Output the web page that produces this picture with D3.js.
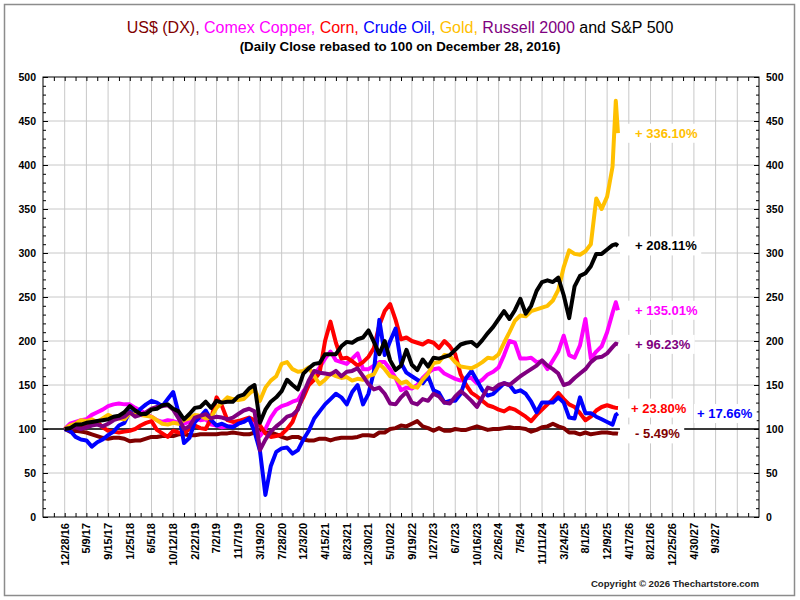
<!DOCTYPE html>
<html>
<head>
<meta charset="utf-8">
<script src="https://cdn.jsdelivr.net/npm/d3@7"></script>
<style>
  body { margin: 0; background: #fff; }
  svg { font-family: "Liberation Sans", Arial, sans-serif; }
</style>
</head>
<body>
<div id="chart-area"></div>
<script>
// date labels, one every ~90 trading days
const tickLabels = ['12/28/16', '5/9/17', '9/15/17', '1/25/18', '6/5/18', '10/12/18', '2/22/19',
    '7/2/19', '11/7/19', '3/19/20', '7/28/20', '12/3/20', '4/15/21', '8/23/21', '12/30/21',
    '5/10/22', '9/19/22', '1/27/23', '6/7/23', '10/16/23', '2/26/24', '7/5/24', '11/11/24',
    '3/24/25', '8/1/25', '12/9/25', '4/17/26', '8/21/26', '12/25/26', '4/30/27', '9/3/27'];

// sample positions, in label steps
const xIdx = d3.range(0, 25.3, 0.25).concat([25.4, 25.5]);

const dollar = [100,97,98,97, 96,94,92,90,
    89,90,90,89, 86,87,87,89,
    91,91,92,92, 92,94,94,93,
    93,94,94,94, 94,95,95,96,
    95,94,94,96, 99,96,96,94,
    91,89,91,91, 88,87,87,89,
    89,87,89,90, 90,90,91,93,
    93,92,96,96, 100,101,104,103,
    106,109,103,101, 98,101,98,98,
    100,99,99,101, 103,101,99,100,
    100,101,102,101, 101,100,97,99,
    102,103,106,103, 101,96,96,94,
    96,94,95,96, 96,95,95,94.51];

const copper = [100,106,108,110, 111,116,119,122,
    126,128,129,128, 128,124,121,117,
    114,110,108,110, 109,107,106,108,
    112,110,111,105, 104,102,103,103,
    106,109,111,104, 92,100,113,122,
    126,128,131,133, 143,150,162,170,
    180,188,178,176, 174,180,186,168,
    168,172,176,176, 168,158,144,147,
    146,150,158,164, 168,169,163,160,
    157,155,158,158, 152,156,162,165,
    170,184,200,198, 180,180,181,176,
    177,168,178,188, 206,184,181,195,
    225,180,188,194, 210,232,244,235.01];

const corn = [100,103,104,103, 104,106,108,102,
    98,97,96,97, 98,100,104,107,
    109,99,95,91, 98,96,95,100,
    104,101,100,112, 136,126,110,108,
    109,111,113,110, 104,95,91,92,
    94,100,108,124, 136,150,156,164,
    200,222,198,180, 181,177,172,176,
    182,192,218,234, 242,224,202,204,
    200,198,196,200, 198,192,200,194,
    185,162,150,141, 137,132,127,125,
    122,120,124,122, 118,114,109,116,
    122,128,134,141, 134,128,125,118,
    110,114,121,125, 127,125,124,123.80];

const crude = [100,98,91,88, 87,80,85,88,
    93,97,104,107, 120,116,123,128,
    132,130,126,134, 142,118,84,90,
    108,114,121,110, 104,106,103,102,
    106,108,112,97, 75,25,58,74,
    78,79,72,76, 88,98,112,120,
    128,134,140,136, 128,142,150,128,
    140,165,224,184, 200,214,175,164,
    160,156,152,160, 144,141,130,132,
    132,140,158,166, 155,144,138,140,
    146,152,150,142, 144,140,131,119,
    130,130,130,136, 130,113,112,136,
    118,118,114,111, 108,105,116,117.66];

const gold = [100,104,106,110, 109,111,108,112,
    116,113,112,111, 118,116,116,115,
    114,110,106,105, 107,106,110,112,
    116,115,112,113, 124,130,136,134,
    133,134,140,145, 132,147,155,160,
    174,176,168,165, 166,170,160,151,
    156,163,160,158, 159,155,157,156,
    160,162,174,168, 160,158,152,154,
    148,147,156,163, 175,176,184,183,
    176,171,170,169, 172,176,181,180,
    185,198,210,223, 229,228,234,236,
    238,240,246,258, 284,303,299,298,
    302,310,362,350, 364,398,473,436.10];

const russell = [100,101,102,100, 102,104,105,103,
    106,110,112,114, 119,114,116,119,
    123,125,126,127, 122,112,100,103,
    113,115,117,112, 114,113,111,113,
    117,121,123,120, 76,88,97,103,
    108,114,116,122, 140,155,166,164,
    163,162,166,160, 165,166,169,160,
    151,145,147,140, 129,128,136,142,
    130,128,134,132, 140,137,130,129,
    137,143,138,132, 125,136,147,145,
    150,152,150,155, 160,164,168,172,
    178,172,168,163, 150,152,158,163,
    168,176,181,182, 186,193,197,196.23];

const spx = [100,101,105,105, 107,108,109,110,
    111,114,115,119, 126,121,117,117,
    122,123,127,128, 123,120,111,117,
    124,125,131,124, 132,130,131,131,
    137,139,146,150, 107,122,131,136,
    143,156,150,145, 163,169,174,175,
    185,185,185,194, 199,198,202,204,
    212,199,185,200, 178,167,172,190,
    173,167,179,171, 181,180,182,184,
    190,196,198,199, 194,201,209,216,
    225,234,225,235, 248,231,240,257,
    267,269,267,272, 252,226,262,274,
    277,285,299,299, 304,309,310,308.11];

const seriesNames = ['US$ (DX)', 'Comex Copper', 'Corn', 'Crude Oil', 'Gold', 'Russell 2000', 'S&P 500'];
const seriesValues = [dollar, copper, corn, crude, gold, russell, spx];
const endLabels = ['- 5.49%', '+ 135.01%', '+ 23.80%', '+ 17.66%', '+ 336.10%', '+ 96.23%', '+ 208.11%'];

const colors = ['#800000', '#ff00ff', '#ff0000', '#0000ff', '#ffc000', '#800080', '#000000'];
// horizontal offset of each end label from the last point
const labelShift = [17, 17, 13, 79, 17, 17, 17];

const plotLeft = 43, plotRight = 759, plotTop = 77, plotBottom = 517;

const svg = d3.select('#chart-area')
    .append('svg')
    .attr('width', 800)
    .attr('height', 600);

svg.append('rect')
    .attr('x', 4.5).attr('y', 4.5)
    .attr('width', 790).attr('height', 591)
    .attr('fill', '#fff')
    .attr('stroke', '#8c8c8c')
    .attr('stroke-width', 1.5);

const x = d3.scaleLinear().domain([-1, 32]).range([plotLeft, plotRight]);
const y = d3.scaleLinear().domain([0, 500]).range([plotBottom, plotTop]);

// title
const title = svg.append('text')
    .attr('x', 400).attr('y', 33)
    .attr('text-anchor', 'middle')
    .attr('font-size', '16px');
seriesNames.forEach((n, i) => {
    const last = i === seriesNames.length - 1;
    title.append('tspan')
        .attr('fill', colors[i])
        .text((last ? 'and ' : '') + n + (i < seriesNames.length - 2 ? ', ' : ' '));
});

svg.append('text')
    .attr('x', 400).attr('y', 51)
    .attr('text-anchor', 'middle')
    .attr('font-size', '13.3px')
    .attr('font-weight', 'bold')
    .text('(Daily Close rebased to 100 on December 28, 2016)');

// grid
const grid = svg.append('g').attr('stroke', '#c8c8c8').attr('stroke-width', 1);
grid.selectAll('.vg').data(d3.range(0, 32)).enter()
    .append('line')
    .attr('x1', d => x(d)).attr('x2', d => x(d))
    .attr('y1', plotTop).attr('y2', plotBottom);
grid.selectAll('.hg').data(d3.range(50, 500, 50)).enter()
    .append('line')
    .attr('x1', plotLeft).attr('x2', plotRight)
    .attr('y1', d => y(d)).attr('y2', d => y(d));

// axes
const axisStyle = g => {
    g.select('.domain').remove();
    g.selectAll('text').attr('font-size', '10.5px').attr('font-weight', 'bold').attr('fill', '#000');
};

svg.append('g').attr('transform', 'translate(' + plotLeft + ',0)')
    .call(d3.axisLeft(y).tickValues(d3.range(0, 501, 10)).tickSizeInner(-3).tickSizeOuter(0).tickFormat(''))
    .call(axisStyle);
svg.append('g').attr('transform', 'translate(' + plotLeft + ',0)')
    .call(d3.axisLeft(y).tickValues(d3.range(0, 501, 50)).tickSizeInner(-5).tickSizeOuter(0).tickPadding(7))
    .call(axisStyle);
svg.append('g').attr('transform', 'translate(' + plotRight + ',0)')
    .call(d3.axisRight(y).tickValues(d3.range(0, 501, 10)).tickSizeInner(-3).tickSizeOuter(0).tickFormat(''))
    .call(axisStyle);
svg.append('g').attr('transform', 'translate(' + plotRight + ',0)')
    .call(d3.axisRight(y).tickValues(d3.range(0, 501, 50)).tickSizeInner(-5).tickSizeOuter(0).tickPadding(7))
    .call(axisStyle);

const xTicks = d3.range(-0.5, 32, 0.5);
svg.append('g').attr('transform', 'translate(0,' + plotBottom + ')')
    .call(d3.axisBottom(x).tickValues(xTicks).tickSizeInner(-4).tickSizeOuter(0).tickFormat(''))
    .call(axisStyle);
svg.append('g').attr('transform', 'translate(0,' + plotTop + ')')
    .call(d3.axisTop(x).tickValues(xTicks).tickSizeInner(-4).tickSizeOuter(0).tickFormat(''))
    .call(axisStyle);

svg.append('g').selectAll('text')
    .data(tickLabels).enter()
    .append('text')
    .attr('transform', (d, i) => 'translate(' + x(i) + ',' + (plotBottom + 6) + ') rotate(-90)')
    .attr('dy', '0.35em')
    .attr('text-anchor', 'end')
    .attr('font-size', '11px')
    .attr('font-weight', 'bold')
    .text(d => d);

// 100 base line
svg.append('line')
    .attr('x1', plotLeft).attr('x2', plotRight)
    .attr('y1', y(100)).attr('y2', y(100))
    .attr('stroke', '#000').attr('stroke-width', 1.5);

// series
const line = d3.line()
    .x((d, i) => x(xIdx[i]))
    .y(d => y(d));

svg.append('g').selectAll('path')
    .data(seriesValues).enter()
    .append('path')
    .attr('d', line)
    .attr('fill', 'none')
    .attr('stroke', (d, i) => colors[i])
    .attr('stroke-width', 4)
    .attr('stroke-linejoin', 'round');

// end labels with white boxes
const lastX = x(xIdx[xIdx.length - 1]);
const labelOrder = [3, 0, 2, 1, 5, 6, 4];
const lab = svg.append('g');
labelOrder.forEach(i => {
    const vals = seriesValues[i];
    const g = lab.append('g');
    const t = g.append('text')
        .attr('x', lastX + labelShift[i])
        .attr('y', y(vals[vals.length - 1]))
        .attr('dy', '0.35em')
        .attr('font-size', '13px')
        .attr('font-weight', 'bold')
        .attr('fill', colors[i])
        .text(endLabels[i]);
    const b = t.node().getBBox();
    const x0 = labelShift[i] > 30 ? b.x - 3 : lastX + 2;
    g.insert('rect', 'text')
        .attr('x', x0).attr('y', b.y - 2)
        .attr('width', b.x + b.width + 4 - x0)
        .attr('height', b.height + 4)
        .attr('fill', '#fff');
});

// plot frame
svg.append('rect')
    .attr('x', plotLeft).attr('y', plotTop)
    .attr('width', plotRight - plotLeft).attr('height', plotBottom - plotTop)
    .attr('fill', 'none')
    .attr('stroke', '#000').attr('stroke-width', 1);

svg.append('text')
    .attr('x', plotRight).attr('y', 587)
    .attr('text-anchor', 'end')
    .attr('font-size', '9.6px')
    .attr('font-weight', 'bold')
    .attr('fill', '#222')
    .text('Copyright \u00a9 2026 Thechartstore.com');
</script>
</body>
</html>
